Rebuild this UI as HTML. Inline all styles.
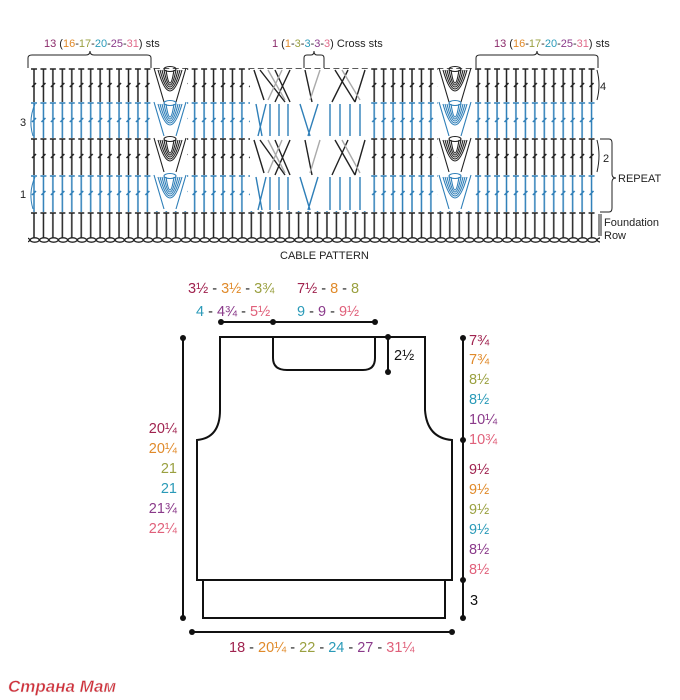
<!DOCTYPE html>
<html><head><meta charset="utf-8"><style>
html,body{margin:0;padding:0;background:#fff;}
svg{display:block}
text{font-family:"Liberation Sans",sans-serif}
</style></head><body>
<svg width="680" height="700" viewBox="0 0 680 700" xmlns="http://www.w3.org/2000/svg">
<defs>
<pattern id="pk4" x="30" y="68" width="9.45" height="34" patternUnits="userSpaceOnUse"><g stroke="#222" stroke-width="1.5" fill="none"><path d="M1 1H7M4 1V34M2 19L6 15"/></g></pattern>
<pattern id="pb3" x="30" y="102" width="9.45" height="36" patternUnits="userSpaceOnUse"><g stroke="#2f7fb8" stroke-width="1.5" fill="none"><path d="M1 1H7M4 1V36M2 20L6 16"/></g></pattern>
<pattern id="pk2" x="30" y="138" width="9.45" height="37" patternUnits="userSpaceOnUse"><g stroke="#222" stroke-width="1.5" fill="none"><path d="M1 1H7M4 1V37M2 20L6 16"/></g></pattern>
<pattern id="pb1" x="30" y="175" width="9.45" height="37" patternUnits="userSpaceOnUse"><g stroke="#2f7fb8" stroke-width="1.5" fill="none"><path d="M1 1H7M4 1V37M2 20L6 16"/></g></pattern>
<pattern id="pf" x="30" y="212" width="9.45" height="26" patternUnits="userSpaceOnUse"><g stroke="#222" stroke-width="1.5" fill="none"><path d="M1 1H7M4 1V26"/></g></pattern>
<pattern id="pc" x="30" y="236" width="9.45" height="8" patternUnits="userSpaceOnUse"><ellipse cx="4.7" cy="4" rx="4.5" ry="2.2" fill="none" stroke="#222" stroke-width="1.3"/></pattern>
<g id="fanK"><g fill="none" stroke-width="1.1"><path d="M0 0L10 34M32 0L22 34"/><path d="M8 2Q16 36 24 2M10 2Q16 32 22 2M12 2Q16 28 20 2M6 2Q16 40 26 2M4 2Q16 44 28 2"/><ellipse cx="16" cy="1" rx="6" ry="2.5"/></g></g>
</defs>
<rect x="30" y="68" width="568" height="34" fill="url(#pk4)"/>
<rect x="30" y="102" width="568" height="36" fill="url(#pb3)"/>
<rect x="30" y="138" width="568" height="37" fill="url(#pk2)"/>
<rect x="30" y="175" width="568" height="37" fill="url(#pb1)"/>
<rect x="30" y="212" width="568" height="26" fill="url(#pf)"/>
<rect x="28" y="236" width="572" height="8" fill="url(#pc)"/>
<g>
<rect x="153" y="69" width="34" height="142" fill="#fff"/>
<rect x="438" y="69" width="34" height="142" fill="#fff"/>
<g stroke="#222"><use href="#fanK" x="154" y="68"/><use href="#fanK" x="154" y="138"/><use href="#fanK" x="439" y="68"/><use href="#fanK" x="439" y="138"/></g>
<g stroke="#2f7fb8"><use href="#fanK" x="154" y="102"/><use href="#fanK" x="154" y="175"/><use href="#fanK" x="439" y="102"/><use href="#fanK" x="439" y="175"/></g>
</g>
<rect x="250" y="69" width="120" height="142" fill="#fff"/>
<g fill="none" stroke-width="1.4">
<g stroke="#222"><path d="M254 70L264 100M260 70L285 102M275 70L290 102M290 70L275 102M305 70L312 102M335 70L355 102M348 70L332 102M365 70L355 102"/>
<path d="M254 140L264 173M260 140L285 175M275 140L290 175M290 140L275 175M305 140L312 175M335 140L355 175M348 140L332 175M365 140L355 175"/></g>
<g stroke="#aaa"><path d="M268 70L285 100M282 70L268 100M320 70L310 100M342 70L360 100"/><path d="M268 140L285 173M282 140L268 173M320 140L310 173M342 140L360 173"/></g>
<g stroke="#2f7fb8"><path d="M256 104L262 136M270 104V136M279 104V136M288 104V136M300 104L310 136M318 104L308 136M330 104V136M340 104V136M350 104V136M360 104V136M266 104L258 136"/>
<path d="M256 177L262 210M270 177V210M279 177V210M288 177V210M300 177L310 210M318 177L308 210M330 177V210M340 177V210M350 177V210M360 177V210M266 177L258 210"/></g>
</g>
<g fill="none" stroke="#222" stroke-width="1">
<path d="M28 68V58Q28 55 32 55H86Q90 55 90 51Q90 55 94 55H147Q151 55 151 58V68"/>
<path d="M304 68V58Q304 55 307 55H311Q314 55 314 51Q314 55 317 55H321Q324 55 324 58V68"/>
<path d="M476 68V58Q476 55 480 55H533Q537 55 537 51Q537 55 541 55H594Q598 55 598 58V68"/>
<path d="M600 139H609Q612 139 612 143V174Q612 178 616 178Q612 178 612 182V208Q612 212 609 212H600"/>
<path d="M599 214V236"/><path d="M601 214V236"/>
<path d="M597 70Q601 85 597 100"/><path d="M597 140Q601 155 597 172"/>
<path d="M35 104Q28 120 33 136" stroke="#2f7fb8"/><path d="M35 177Q28 193 33 209" stroke="#2f7fb8"/>
</g>
<g font-size="11" fill="#222">
<text x="44" y="47"><tspan fill="#8a2a6a">13</tspan> (<tspan fill="#e08a2a">16</tspan>-<tspan fill="#9aa040">17</tspan>-<tspan fill="#2a9ab8">20</tspan>-<tspan fill="#8a3a8a">25</tspan>-<tspan fill="#e06a8a">31</tspan>) sts</text>
<text x="272" y="47"><tspan fill="#8a2a6a">1</tspan> (<tspan fill="#e08a2a">1</tspan>-<tspan fill="#9aa040">3</tspan>-<tspan fill="#2a9ab8">3</tspan>-<tspan fill="#8a3a8a">3</tspan>-<tspan fill="#e06a8a">3</tspan>) Cross sts</text>
<text x="494" y="47"><tspan fill="#8a2a6a">13</tspan> (<tspan fill="#e08a2a">16</tspan>-<tspan fill="#9aa040">17</tspan>-<tspan fill="#2a9ab8">20</tspan>-<tspan fill="#8a3a8a">25</tspan>-<tspan fill="#e06a8a">31</tspan>) sts</text>
<text x="20" y="126">3</text><text x="20" y="198">1</text>
<text x="600" y="90">4</text><text x="603" y="162">2</text>
<text x="618" y="182">REPEAT</text>
<text x="604" y="226">Foundation</text><text x="604" y="239">Row</text>
<text x="280" y="259">CABLE PATTERN</text>
</g>
<g fill="none" stroke="#111" stroke-width="2">
<path d="M220 337H425V410Q427 438 452 440V580H197V440Q220 438 220 410Z"/>
<path d="M273 337V358Q273 370 287 370H363Q375 370 375 358V337"/>
<path d="M203 580V618H445V580"/>
<path d="M183 338V618M463 338V618M221 322H375M388 337V372M192 632H452"/>
</g>
<g fill="#111">
<circle cx="183" cy="338" r="3"/><circle cx="183" cy="618" r="3"/>
<circle cx="463" cy="338" r="3"/><circle cx="463" cy="440" r="3"/><circle cx="463" cy="580" r="3"/><circle cx="463" cy="618" r="3"/>
<circle cx="221" cy="322" r="3"/><circle cx="273" cy="322" r="3"/><circle cx="375" cy="322" r="3"/>
<circle cx="388" cy="337" r="3"/><circle cx="388" cy="372" r="3"/>
<circle cx="192" cy="632" r="3"/><circle cx="452" cy="632" r="3"/>
</g>
<g font-size="14.5" font-family="'DejaVu Sans',sans-serif">
<text x="188" y="293"><tspan fill="#a0234f">3½</tspan><tspan fill="#222"> - </tspan><tspan fill="#e08a2a">3½</tspan><tspan fill="#222"> - </tspan><tspan fill="#9aa040">3¾</tspan></text>
<text x="297" y="293"><tspan fill="#a0234f">7½</tspan><tspan fill="#222"> - </tspan><tspan fill="#e08a2a">8</tspan><tspan fill="#222"> - </tspan><tspan fill="#9aa040">8</tspan></text>
<text x="196" y="316"><tspan fill="#2a9ab8">4</tspan><tspan fill="#222"> - </tspan><tspan fill="#8a3a8a">4¾</tspan><tspan fill="#222"> - </tspan><tspan fill="#e0607a">5½</tspan></text>
<text x="297" y="316"><tspan fill="#2a9ab8">9</tspan><tspan fill="#222"> - </tspan><tspan fill="#8a3a8a">9</tspan><tspan fill="#222"> - </tspan><tspan fill="#e0607a">9½</tspan></text>
<text x="394" y="360" fill="#111">2½</text>
<g text-anchor="end">
<text x="177" y="433" fill="#a0234f">20¼</text><text x="177" y="453" fill="#e08a2a">20¼</text><text x="177" y="473" fill="#9aa040">21</text><text x="177" y="493" fill="#2a9ab8">21</text><text x="177" y="513" fill="#8a3a8a">21¾</text><text x="177" y="533" fill="#e0607a">22¼</text>
</g>
<text x="469" y="345" fill="#a0234f">7¾</text><text x="469" y="364" fill="#e08a2a">7¾</text><text x="469" y="384" fill="#9aa040">8½</text><text x="469" y="404" fill="#2a9ab8">8½</text><text x="469" y="424" fill="#8a3a8a">10¼</text><text x="469" y="444" fill="#e0607a">10¾</text>
<text x="469" y="474" fill="#a0234f">9½</text><text x="469" y="494" fill="#e08a2a">9½</text><text x="469" y="514" fill="#9aa040">9½</text><text x="469" y="534" fill="#2a9ab8">9½</text><text x="469" y="554" fill="#8a3a8a">8½</text><text x="469" y="574" fill="#e0607a">8½</text>
<text x="470" y="605" fill="#111">3</text>
<text x="229" y="652"><tspan fill="#a0234f">18</tspan><tspan fill="#222"> - </tspan><tspan fill="#e08a2a">20¼</tspan><tspan fill="#222"> - </tspan><tspan fill="#9aa040">22</tspan><tspan fill="#222"> - </tspan><tspan fill="#2a9ab8">24</tspan><tspan fill="#222"> - </tspan><tspan fill="#8a3a8a">27</tspan><tspan fill="#222"> - </tspan><tspan fill="#e0607a">31¼</tspan></text>
</g>
<text x="8" y="692" font-family="'Liberation Serif',serif" font-style="italic" font-weight="bold" font-size="17" fill="#d0303a" stroke="#eee" stroke-width="0.5">Страна Мам</text>
</svg>
</body></html>
